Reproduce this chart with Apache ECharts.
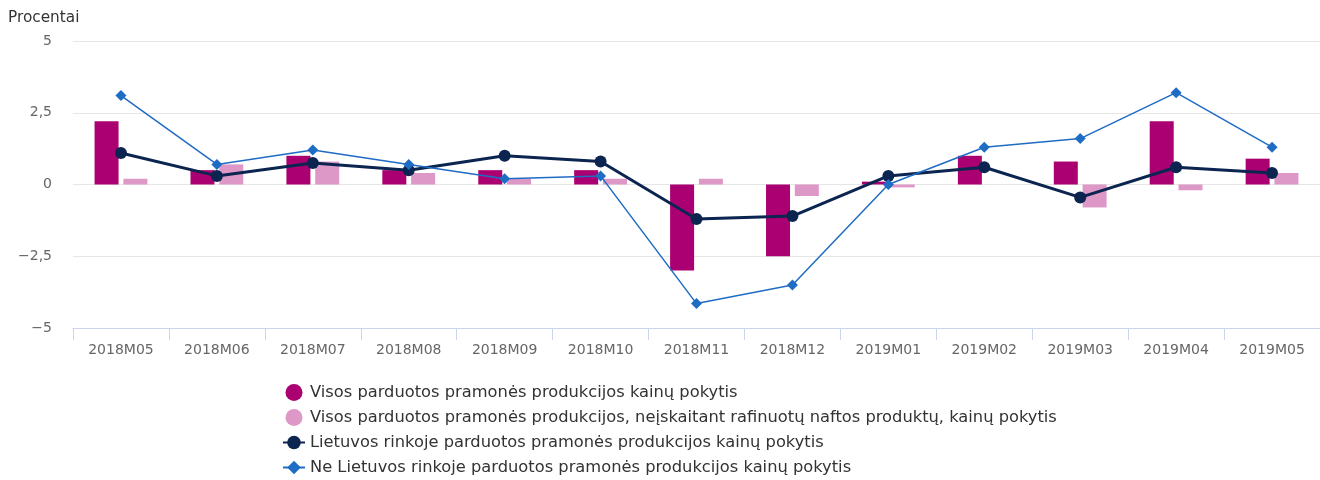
<!DOCTYPE html>
<html>
<head>
<meta charset="utf-8">
<script src="https://cdn.jsdelivr.net/npm/echarts@6/dist/echarts.min.js"></script>
<style>
  html, body { margin: 0; padding: 0; background: #fff; }
  #chart { width: 1320px; height: 480px; }
</style>
</head>
<body>
<div id="chart"></div>
<script>
// kategorijos (mėnesiai)
const months = ['2018M05', '2018M06', '2018M07', '2018M08', '2018M09', '2018M10', '2018M11',
  '2018M12', '2019M01', '2019M02', '2019M03', '2019M04', '2019M05'];

// serijų pavadinimai
const seriesNames = [
  'Visos parduotos pramonės produkcijos kainų pokytis',
  'Visos parduotos pramonės produkcijos, neįskaitant rafinuotų naftos produktų, kainų pokytis',
  'Lietuvos rinkoje parduotos pramonės produkcijos kainų pokytis',
  'Ne Lietuvos rinkoje parduotos pramonės produkcijos kainų pokytis',
];

// reikšmės, procentai
const allProducts = [2.2, 0.5, 1.0, 0.5, 0.5, 0.5, -3.0, -2.5, 0.1, 1.0, 0.8, 2.2, 0.9];
const withoutOil = [0.2, 0.7, 0.8, 0.4, 0.2, 0.2, 0.2, -0.4, -0.1, 0.0, -0.8, -0.2, 0.4];
const domestic = [1.1, 0.3, 0.75, 0.5, 1.0, 0.8, -1.2, -1.1, 0.3, 0.6, -0.45, 0.6, 0.4];
const nonDomestic = [3.1, 0.7, 1.2, 0.7, 0.2, 0.3, -4.15, -3.5, 0.0, 1.3, 1.6, 3.2, 1.3];

// y ašies ribos
const yMin = -5;
const yMax = 5;
const yStep = 2.5;

const chart = echarts.init(document.getElementById('chart'));

chart.setOption({
  animation: false,
  textStyle: { fontFamily: 'DejaVu Sans, sans-serif' },
  title: {
    text: 'Procentai',
    left: 3,
    top: 6,
    textStyle: { fontSize: 15.3, fontWeight: 'normal', color: '#333', fontFamily: 'DejaVu Sans' },
  },
  grid: { left: 73, right: 0, top: 41, bottom: 152 },
  xAxis: {
    type: 'category',
    data: months,
    axisLine: { onZero: false, lineStyle: { color: '#ccd6eb' } },
    axisTick: { show: true, length: 12, lineStyle: { color: '#ccd6eb' } },
    axisLabel: { color: '#666', fontSize: 14, margin: 15, fontFamily: 'DejaVu Sans' },
  },
  yAxis: {
    type: 'value',
    min: yMin,
    max: yMax,
    interval: yStep,
    axisLine: { show: false },
    axisTick: { show: false },
    splitLine: { lineStyle: { color: '#e6e6e6' } },
    axisLabel: {
      color: '#666',
      fontSize: 14,
      margin: 21,
      fontFamily: 'DejaVu Sans',
      formatter: (v) => String(v).replace('.', ',').replace('-', '−'),
    },
  },
  legend: {
    orient: 'vertical',
    left: 282,
    top: 380,
    padding: 0,
    itemGap: 0,
    itemWidth: 22,
    itemHeight: 17,
    textStyle: { color: '#333', fontSize: 16.3, lineHeight: 25, fontFamily: 'DejaVu Sans' },
    data: [
      { name: seriesNames[0], icon: 'circle' },
      { name: seriesNames[1], icon: 'circle' },
      { name: seriesNames[2] },
      { name: seriesNames[3] },
    ],
  },
  series: [
    {
      name: seriesNames[0],
      type: 'bar',
      data: allProducts,
      barWidth: 24,
      barGap: '20%',
      itemStyle: { color: '#ab0072' },
    },
    {
      name: seriesNames[1],
      type: 'bar',
      data: withoutOil,
      barWidth: 24,
      itemStyle: { color: '#de98c8' },
    },
    {
      name: seriesNames[2],
      type: 'line',
      data: domestic,
      symbol: 'circle',
      symbolSize: 12,
      z: 4,
      lineStyle: { color: '#0b2550', width: 3 },
      itemStyle: { color: '#0b2550' },
    },
    {
      name: seriesNames[3],
      type: 'line',
      data: nonDomestic,
      symbol: 'diamond',
      symbolSize: 11,
      z: 5,
      lineStyle: { color: '#1f6cc4', width: 1.5 },
      itemStyle: { color: '#1f6cc4' },
    },
  ],
});
</script>
</body>
</html>
